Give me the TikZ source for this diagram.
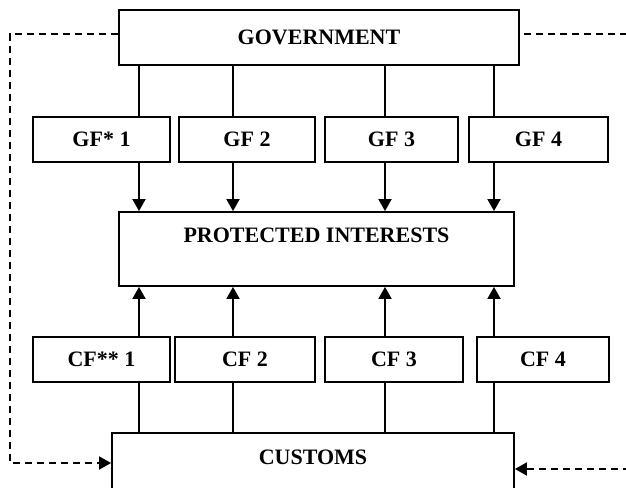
\documentclass[tikz,border=0pt]{standalone}
\usepackage{fontspec}
\setmainfont{Liberation Serif}
\usetikzlibrary{arrows.meta}
\begin{document}
\begin{tikzpicture}[x=1pt,y=-1pt,
  box/.style={draw,line width=1.9pt,rectangle,inner sep=0pt,font=\bfseries\fontsize{22}{26}\selectfont},
  conn/.style={line width=1.9pt},
  arr/.style={line width=1.9pt,-{Triangle[length=12pt,width=13pt]}},
  dsh/.style={line width=1.9pt,dash pattern=on 7pt off 5pt}]
\useasboundingbox (0,0) rectangle (626,487);
\begin{scope}
\clip (0,0) rectangle (626,487);
\node[box,minimum width=400,minimum height=55] (gov) at (319,37.5) {GOVERNMENT};
\node[box,minimum width=137,minimum height=45] (gf1) at (101.5,139.5) {GF* 1};
\node[box,minimum width=136,minimum height=45] (gf2) at (247,139.5) {GF 2};
\node[box,minimum width=133,minimum height=45] (gf3) at (391.5,139.5) {GF 3};
\node[box,minimum width=139,minimum height=45] (gf4) at (538.5,139.5) {GF 4};
\node[box,minimum width=395,minimum height=74,label={[yshift=14pt,font=\bfseries\fontsize{22}{26}\selectfont]center:PROTECTED INTERESTS}] (pi) at (316.5,249) {};
\node[box,minimum width=137,minimum height=45] (cf1) at (101.5,359.5) {CF** 1};
\node[box,minimum width=140,minimum height=45] (cf2) at (245,359.5) {CF 2};
\node[box,minimum width=138,minimum height=45] (cf3) at (394,359.5) {CF 3};
\node[box,minimum width=132,minimum height=45] (cf4) at (543,359.5) {CF 4};
\node[box,minimum width=402,minimum height=62,label={[yshift=7pt,font=\bfseries\fontsize{22}{26}\selectfont]center:CUSTOMS}] (cus) at (313,464) {};
\coordinate (c1) at (139,0);
\coordinate (c2) at (233,0);
\coordinate (c3) at (385,0);
\coordinate (c4) at (494,0);
\draw[conn] (gov.south -| c1) -- (gf1.north -| c1);
\draw[conn] (gov.south -| c2) -- (gf2.north -| c2);
\draw[conn] (gov.south -| c3) -- (gf3.north -| c3);
\draw[conn] (gov.south -| c4) -- (gf4.north -| c4);
\draw[arr] (gf1.south -| c1) -- (pi.north -| c1);
\draw[arr] (gf2.south -| c2) -- (pi.north -| c2);
\draw[arr] (gf3.south -| c3) -- (pi.north -| c3);
\draw[arr] (gf4.south -| c4) -- (pi.north -| c4);
\draw[arr] (cf1.north -| c1) -- (pi.south -| c1);
\draw[arr] (cf2.north -| c2) -- (pi.south -| c2);
\draw[arr] (cf3.north -| c3) -- (pi.south -| c3);
\draw[arr] (cf4.north -| c4) -- (pi.south -| c4);
\draw[conn] (cus.north -| c1) -- (cf1.south -| c1);
\draw[conn] (cus.north -| c2) -- (cf2.south -| c2);
\draw[conn] (cus.north -| c3) -- (cf3.south -| c3);
\draw[conn] (cus.north -| c4) -- (cf4.south -| c4);
\coordinate (lt) at (10,34);
\coordinate (lb) at (10,463);
\coordinate (rt) at (630,34);
\coordinate (rb) at (630,469);
\draw[dsh,-{Triangle[length=12pt,width=13pt]}] ([yshift=3.5pt]gov.west) -- (lt) -- (lb) -- ([yshift=1pt]cus.west);
\draw[dsh] ([xshift=4pt,yshift=3.5pt]gov.east) -- (rt);
\draw[dsh,-{Triangle[length=12pt,width=13pt]}] (rb) -- ([yshift=-5pt]cus.east);
\end{scope}
\end{tikzpicture}
\end{document}
